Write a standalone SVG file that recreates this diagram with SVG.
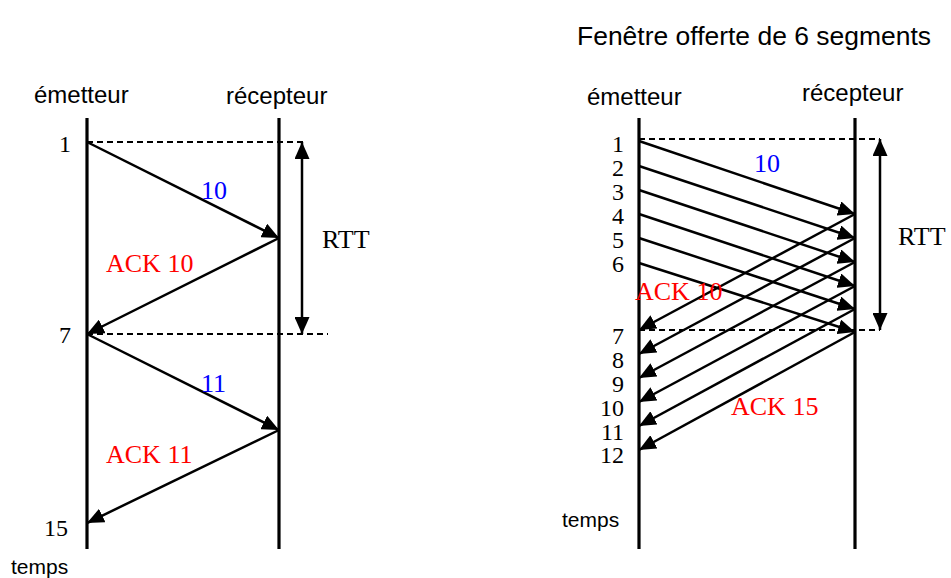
<svg xmlns="http://www.w3.org/2000/svg" width="951" height="578" viewBox="0 0 951 578">
  <style>
    .sans { font-family: "Liberation Sans", Arial, sans-serif; fill: #000; }
    .serif { font-family: "Liberation Serif", "Times New Roman", serif; font-size: 24px; fill: #000; }
    .lbl { font-family: "Liberation Serif", "Times New Roman", serif; font-size: 26px; }
    .seg { fill: #0000ff; }
    .ack { fill: #ff0000; }
    .life { stroke: #000; stroke-width: 3.2; fill: none; }
    .msg { stroke: #000; stroke-width: 2.5; fill: none; marker-end: url(#head); }
    .dash { stroke: #000; stroke-width: 1.8; stroke-dasharray: 6 4; fill: none; }
    .rtt { stroke: #000; stroke-width: 2.5; fill: none; marker-start: url(#headStart); marker-end: url(#head); }
  </style>
  <defs>
    <marker id="head" viewBox="0 0 17 15" refX="17" refY="7.5" markerWidth="17" markerHeight="15" markerUnits="userSpaceOnUse" orient="auto">
      <path d="M0,0 L17,7.5 L0,15 z" fill="#000"/>
    </marker>
    <marker id="headStart" viewBox="0 0 17 15" refX="0" refY="7.5" markerWidth="17" markerHeight="15" markerUnits="userSpaceOnUse" orient="auto">
      <path d="M17,0 L0,7.5 L17,15 z" fill="#000"/>
    </marker>
  </defs>

  <!-- Stop-and-wait exchange -->
  <g id="left-sender">
    <text class="sans" x="34" y="103" font-size="24">émetteur</text>
    <line class="life" x1="87" y1="118" x2="87" y2="549"/>
    <text class="serif" x="71" y="152" text-anchor="end">1</text>
    <text class="serif" x="71" y="343" text-anchor="end">7</text>
    <text class="serif" x="68" y="536" text-anchor="end">15</text>
    <text class="sans" x="11" y="574" font-size="21">temps</text>
  </g>
  <g id="left-receiver">
    <text class="sans" x="226" y="104" font-size="24">récepteur</text>
    <line class="life" x1="279" y1="118" x2="279" y2="549"/>
  </g>

  <!-- Sliding window of 6 segments -->
  <text class="sans" x="577" y="45" font-size="26" textLength="354" lengthAdjust="spacingAndGlyphs">Fenêtre offerte de 6 segments</text>
  <g id="right-sender">
    <text class="sans" x="587" y="105" font-size="24">émetteur</text>
    <line class="life" x1="639" y1="118" x2="639" y2="549"/>
    <g class="serif" text-anchor="end">
      <text x="624" y="152">1</text>
      <text x="624" y="176">2</text>
      <text x="624" y="200">3</text>
      <text x="624" y="224">4</text>
      <text x="624" y="248">5</text>
      <text x="624" y="272">6</text>
      <text x="624" y="344">7</text>
      <text x="624" y="368">8</text>
      <text x="624" y="392">9</text>
      <text x="624" y="416">10</text>
      <text x="624" y="440">11</text>
      <text x="624" y="463">12</text>
    </g>
    <text class="sans" x="562" y="527" font-size="21">temps</text>
  </g>
  <g id="right-receiver">
    <text class="sans" x="802" y="101" font-size="24">récepteur</text>
    <line class="life" x1="855" y1="118" x2="855" y2="549"/>
  </g>

  <g id="connectors">
    <!-- stop-and-wait -->
    <line class="dash" x1="87" y1="142" x2="303" y2="142"/>
    <line class="dash" x1="87" y1="334" x2="328" y2="334"/>
    <line class="rtt" x1="302" y1="142" x2="302" y2="334"/>
    <line class="msg" x1="87" y1="142" x2="279" y2="238"/>
    <line class="msg" x1="279" y1="238" x2="87" y2="334"/>
    <line class="msg" x1="87" y1="334" x2="279" y2="430"/>
    <line class="msg" x1="279" y1="430" x2="87" y2="523"/>

    <!-- sliding window -->
    <line class="dash" x1="639" y1="139" x2="880" y2="139"/>
    <line class="dash" x1="639" y1="330" x2="880" y2="330"/>
    <line class="rtt" x1="880" y1="139" x2="880" y2="330"/>
    <line class="msg" x1="639" y1="141" x2="855" y2="214"/>
    <line class="msg" x1="639" y1="166" x2="855" y2="238"/>
    <line class="msg" x1="639" y1="190" x2="855" y2="262"/>
    <line class="msg" x1="639" y1="214" x2="855" y2="286"/>
    <line class="msg" x1="639" y1="238" x2="855" y2="309"/>
    <line class="msg" x1="639" y1="263" x2="855" y2="332"/>
    <line class="msg" x1="855" y1="214" x2="639" y2="330"/>
    <line class="msg" x1="855" y1="238" x2="639" y2="354"/>
    <line class="msg" x1="855" y1="262" x2="639" y2="378"/>
    <line class="msg" x1="855" y1="286" x2="639" y2="402"/>
    <line class="msg" x1="855" y1="309" x2="639" y2="426"/>
    <line class="msg" x1="855" y1="332" x2="639" y2="450"/>
  </g>

  <!-- connector labels -->
  <g id="labels">
    <text class="lbl seg" x="201" y="199">10</text>
    <text class="lbl ack" x="106" y="272">ACK 10</text>
    <text class="lbl seg" x="201" y="392">11</text>
    <text class="lbl ack" x="106" y="463">ACK 11</text>
    <text class="lbl" x="322" y="248">RTT</text>
    <text class="lbl seg" x="754" y="172">10</text>
    <text class="lbl ack" x="635" y="300">ACK 10</text>
    <text class="lbl ack" x="731" y="415">ACK 15</text>
    <text class="lbl" x="898" y="245">RTT</text>
  </g>
</svg>
